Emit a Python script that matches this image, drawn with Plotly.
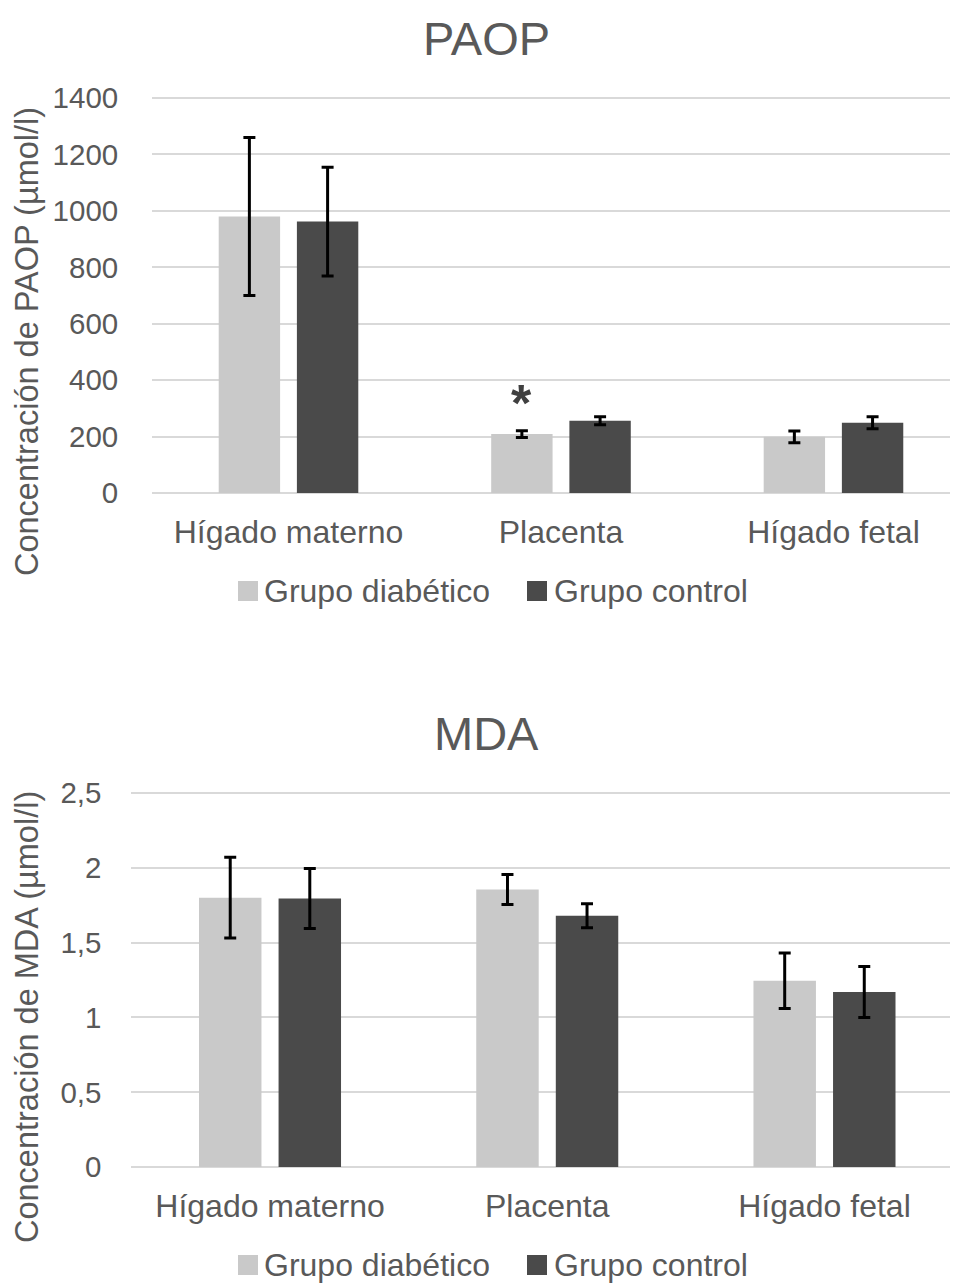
import plotly.graph_objects as go

# ---------------- data ----------------
categories = ["Hígado materno", "Placenta", "Hígado fetal"]
series_names = ["Grupo diabético", "Grupo control"]

paop_diabetico = [980, 209, 199]
paop_diabetico_err = [280, 12, 21]
paop_control = [962, 256, 249]
paop_control_err = [193, 14, 21]

mda_diabetico = [1.80, 1.855, 1.245]
mda_diabetico_err = [0.27, 0.10, 0.185]
mda_control = [1.795, 1.68, 1.17]
mda_control_err = [0.20, 0.08, 0.17]

paop_ticks = [0, 200, 400, 600, 800, 1000, 1200, 1400]
mda_ticks = [0, 0.5, 1, 1.5, 2, 2.5]

star_category = "Placenta"
star_value = 318

# ---------------- style ----------------
OFF = 8                      # page body margin of the browser
W, H = 958 - OFF, 1283 - OFF
FONT = "Liberation Sans, Arial, sans-serif"
TXT = "#595959"
GRID = "#D9D9D9"
C_LIGHT = "#C9C9C9"
C_DARK = "#4A4A4A"
colors = [C_LIGHT, C_DARK]


def px(x):
    return (x - OFF) / W


def py(y):
    return 1 - (y - OFF) / H


fig = go.Figure()

err_style = dict(type="data", visible=True, color="black", thickness=3, width=6)

for name, vals, errs, col in [
    (series_names[0], paop_diabetico, paop_diabetico_err, C_LIGHT),
    (series_names[1], paop_control, paop_control_err, C_DARK),
]:
    fig.add_trace(go.Bar(
        x=categories, y=vals, name=name, marker=dict(color=col, line=dict(width=0)),
        error_y=dict(array=errs, **err_style), xaxis="x", yaxis="y",
        showlegend=False,
    ))

for name, vals, errs, col in [
    (series_names[0], mda_diabetico, mda_diabetico_err, C_LIGHT),
    (series_names[1], mda_control, mda_control_err, C_DARK),
]:
    fig.add_trace(go.Bar(
        x=categories, y=vals, name=name, marker=dict(color=col, line=dict(width=0)),
        error_y=dict(array=errs, **err_style), xaxis="x2", yaxis="y2",
        showlegend=False,
    ))

axis_font = dict(family=FONT, size=29.5, color=TXT)
cat_font = dict(family=FONT, size=32, color=TXT)

# top panel: 0 at y=493, 1400 at y=98  -> 1420 at ~92.4
# bottom panel: 0 at y=1167, 2.5 at y=793 -> 2.55 at ~785.5
fig.update_layout(
    width=W, height=H,
    margin=dict(l=0, r=0, t=0, b=0, autoexpand=False),
    paper_bgcolor="white", plot_bgcolor="white",
    barmode="group", bargap=0.426, bargroupgap=0.215,
    separators=",.",
    font=dict(family=FONT, color=TXT),
    showlegend=False,
    xaxis=dict(domain=[px(152.25), 1], range=[-0.5, 2.457], type="category",
               anchor="y", showgrid=False, showline=False, ticks="", automargin=False,
               tickfont=cat_font, ticklabelstandoff=17, zeroline=False),
    yaxis=dict(domain=[py(493), py(92.4)], range=[0, 1420], tickvals=paop_ticks,
               anchor="x", showgrid=True, gridcolor=GRID, gridwidth=1.5, automargin=False,
               zeroline=True, zerolinecolor=GRID, zerolinewidth=1.5,
               showline=False, ticks="", tickfont=axis_font, ticklabelstandoff=33),
    xaxis2=dict(domain=[px(131.4), 1], range=[-0.5, 2.4816], type="category",
                anchor="y2", showgrid=False, showline=False, ticks="", automargin=False,
                tickfont=cat_font, ticklabelstandoff=17, zeroline=False),
    yaxis2=dict(domain=[py(1167), py(785.5)], range=[0, 2.55], tickvals=mda_ticks,
                anchor="x2", showgrid=True, gridcolor=GRID, gridwidth=1.5, automargin=False,
                zeroline=True, zerolinecolor=GRID, zerolinewidth=1.5,
                showline=False, ticks="", tickfont=axis_font, ticklabelstandoff=29),
)

annotations = []
# chart titles
for text, yc in [("PAOP", 38), ("MDA", 733)]:
    annotations.append(dict(text=text, xref="paper", yref="paper", x=px(487), y=py(yc),
                            xanchor="center", yanchor="middle", showarrow=False,
                            font=dict(family=FONT, size=47, color=TXT)))
# y-axis titles
for text, yc in [("Concentración de PAOP (µmol/l)", 342), ("Concentración de MDA (µmol/l)", 1017)]:
    annotations.append(dict(text=text, xref="paper", yref="paper", x=px(27), y=py(yc),
                            xanchor="center", yanchor="middle", showarrow=False,
                            textangle=-90, font=dict(family=FONT, size=32.5, color=TXT)))
# significance star
annotations.append(dict(text="*", xref="x", yref="y", x=star_category, y=star_value,
                        xshift=-39, xanchor="center", yanchor="middle", showarrow=False,
                        font=dict(family=FONT, size=52, color="#404040", weight="bold")))

# manual legends (larger square swatches)
shapes = []
for yc in [591, 1265]:
    for (sx, tx), name, col in zip([(238, 262), (527, 552)], series_names, colors):
        shapes.append(dict(type="rect", xref="paper", yref="paper",
                           x0=px(sx), x1=px(sx + 20), y0=py(yc + 10), y1=py(yc - 10),
                           fillcolor=col, line=dict(width=0)))
        annotations.append(dict(text=name, xref="paper", yref="paper", x=px(tx), y=py(yc),
                                xanchor="left", yanchor="middle", showarrow=False,
                                font=dict(family=FONT, size=32, color=TXT)))

fig.update_layout(annotations=annotations, shapes=shapes)

fig.write_html("out.html")
